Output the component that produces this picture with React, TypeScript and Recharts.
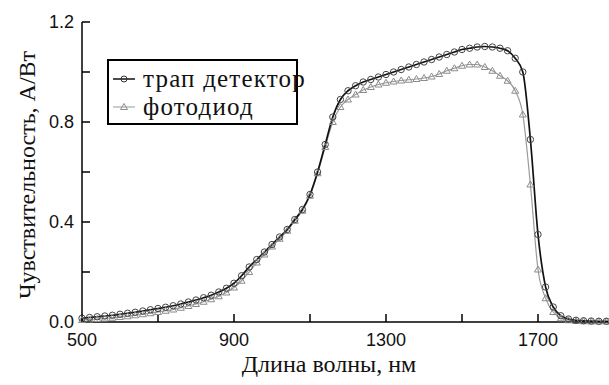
import { LineChart, Line, XAxis, YAxis, Legend, Label } from "recharts";

// длина волны, нм
const wavelengths = [
  500, 520, 540, 560, 580, 600, 620, 640, 660, 680, 700, 720, 740, 760, 780,
  800, 820, 840, 860, 880, 900, 920, 940, 960, 980, 1000, 1020, 1040, 1060,
  1080, 1100, 1120, 1140, 1160, 1180, 1200, 1220, 1240, 1260, 1280, 1300,
  1320, 1340, 1360, 1380, 1400, 1420, 1440, 1460, 1480, 1500, 1520, 1540,
  1560, 1580, 1600, 1620, 1640, 1660, 1680, 1700, 1720, 1740, 1760, 1780,
  1800, 1820, 1840, 1860, 1880, 1900,
];

// трап детектор, А/Вт
const trapDetector = [
  0.015, 0.018, 0.021, 0.024, 0.027, 0.031, 0.035, 0.039, 0.044, 0.049, 0.054,
  0.059, 0.065, 0.072, 0.08, 0.088, 0.097, 0.107, 0.12, 0.135, 0.155, 0.185,
  0.22, 0.25, 0.28, 0.31, 0.34, 0.37, 0.41, 0.45, 0.51, 0.6, 0.71, 0.82, 0.89,
  0.925, 0.945, 0.96, 0.97, 0.98, 0.99, 1.0, 1.01, 1.02, 1.03, 1.04, 1.05,
  1.06, 1.07, 1.08, 1.09, 1.095, 1.1, 1.102, 1.1, 1.095, 1.085, 1.055, 1.0,
  0.73, 0.35, 0.14, 0.06, 0.025, 0.012, 0.007, 0.005, 0.004, 0.003, 0.003,
  0.002,
];

// фотодиод, А/Вт
const photodiode = [
  0.008, 0.01, 0.012, 0.014, 0.017, 0.02, 0.023, 0.027, 0.031, 0.035, 0.04,
  0.045, 0.05, 0.057, 0.064, 0.072, 0.081, 0.091, 0.103, 0.118, 0.138, 0.165,
  0.2, 0.238, 0.27, 0.302, 0.333, 0.365, 0.405, 0.445, 0.505, 0.595, 0.7, 0.8,
  0.86, 0.89, 0.91, 0.928, 0.94, 0.95, 0.957, 0.962, 0.966, 0.969, 0.972,
  0.976, 0.982, 0.992, 1.005, 1.015, 1.025, 1.03, 1.03, 1.02, 1.005, 0.985,
  0.965, 0.925, 0.83, 0.55, 0.21, 0.095, 0.04, 0.015, 0.007, 0.004, 0.003,
  0.002, 0.002, 0.002, 0.002,
];

const xTicks = [500, 700, 900, 1100, 1300, 1500, 1700, 1900];
const xLabeled = [500, 900, 1300, 1700];
const yTicks = [0, 0.2, 0.4, 0.6, 0.8, 1.0, 1.2];
const yLabeled = [0, 0.4, 0.8, 1.2];

const rows = wavelengths.map((wl, i) => ({
  wl,
  trap: trapDetector[i],
  diode: photodiode[i],
}));

const sans = '"Liberation Sans", Arial, sans-serif';
const serif = '"Liberation Serif", "Times New Roman", serif';
const tickStyle = { fontFamily: sans, fontSize: 18, fill: "#111" };
const axisStroke = { stroke: "#000", strokeWidth: 1.5 };

const TriangleDot = (props: any) => {
  const { cx, cy, index } = props;
  if (cx == null || cy == null) return <g key={`tri-${index}`} />;
  return (
    <path
      key={`tri-${index}`}
      d={`M${cx},${cy - 3.5}L${cx + 3.5},${cy + 2.5}L${cx - 3.5},${cy + 2.5}Z`}
      fill="none"
      stroke="#8c8c8c"
      strokeWidth={1}
    />
  );
};

const LegendBox = () => (
  <div
    style={{
      width: 191,
      height: 66,
      border: "2px solid #000",
      background: "#fff",
      fontFamily: serif,
      fontSize: 25,
      letterSpacing: 1.2,
      color: "#111",
      lineHeight: "28px",
      paddingTop: 4,
      boxSizing: "border-box",
      textAlign: "left",
      whiteSpace: "nowrap",
    }}
  >
    <div style={{ display: "flex", alignItems: "center", height: 28 }}>
      <svg width={34} height={14} style={{ flex: "none" }}>
        <line x1={4} x2={26} y1={7} y2={7} stroke="#111" strokeWidth={1.5} />
        <circle cx={15} cy={7} r={3} fill="none" stroke="#333" />
      </svg>
      <span>трап детектор</span>
    </div>
    <div style={{ display: "flex", alignItems: "center", height: 28 }}>
      <svg width={34} height={14} style={{ flex: "none" }}>
        <line x1={4} x2={26} y1={7} y2={7} stroke="#999" strokeWidth={1} />
        <path d="M15,3.5L18.5,9.5L11.5,9.5Z" fill="none" stroke="#8c8c8c" />
      </svg>
      <span>фотодиод</span>
    </div>
  </div>
);

export default function App() {
  return (
    <div
      style={{
        position: "absolute",
        left: 0,
        top: 0,
        width: 609,
        height: 385,
        overflow: "hidden",
        background: "#fff",
      }}
    >
      <LineChart
        width={620}
        height={385}
        data={rows}
        margin={{ top: 22, right: 6, bottom: 0, left: 0 }}
      >
        <XAxis
          dataKey="wl"
          type="number"
          domain={[500, 1900]}
          ticks={xTicks}
          tickFormatter={(v: number) => (xLabeled.includes(v) ? String(v) : "")}
          tick={tickStyle}
          tickSize={-8}
          tickMargin={19}
          axisLine={axisStroke}
          tickLine={axisStroke}
          height={63}
          interval={0}
        >
          <Label
            content={() => (
              <text
                x={329}
                y={372}
                textAnchor="middle"
                fontFamily={serif}
                fontSize={24}
                fill="#111"
              >
                Длина волны, нм
              </text>
            )}
          />
        </XAxis>
        <XAxis
          xAxisId="top"
          dataKey="wl"
          type="number"
          orientation="top"
          domain={[500, 1900]}
          ticks={xTicks}
          tickFormatter={() => ""}
          tickSize={-8}
          axisLine={axisStroke}
          tickLine={axisStroke}
          height={0}
          interval={0}
        />
        <YAxis
          type="number"
          domain={[0, 1.2]}
          ticks={yTicks}
          tickFormatter={(v: number) =>
            yLabeled.some((t) => Math.abs(t - v) < 1e-6) ? v.toFixed(1) : ""
          }
          tick={tickStyle}
          tickSize={-8}
          tickMargin={16}
          axisLine={axisStroke}
          tickLine={axisStroke}
          width={82}
          interval={0}
        >
          <Label
            content={() => (
              <text
                x={27}
                y={175}
                transform="rotate(-90 27 175)"
                textAnchor="middle"
                dominantBaseline="central"
                fontFamily={serif}
                fontSize={24}
                fill="#111"
              >
                Чувствительность, А/Вт
              </text>
            )}
          />
        </YAxis>
        <YAxis
          yAxisId="right"
          type="number"
          orientation="right"
          domain={[0, 1.2]}
          ticks={yTicks}
          tickFormatter={() => ""}
          tickSize={-8}
          axisLine={axisStroke}
          tickLine={axisStroke}
          width={0}
          interval={0}
        />
        <Legend
          layout="vertical"
          align="center"
          verticalAlign="middle"
          content={LegendBox}
          wrapperStyle={{ left: 107, top: 59, width: 191, height: 66 }}
        />
        <Line
          dataKey="diode"
          name="фотодиод"
          type="monotone"
          stroke="#9a9a9a"
          strokeWidth={1.2}
          dot={TriangleDot}
          isAnimationActive={false}
        />
        <Line
          dataKey="trap"
          name="трап детектор"
          type="monotone"
          stroke="#111"
          strokeWidth={1.7}
          dot={{ r: 3.2, stroke: "#444", strokeWidth: 1, fill: "none" }}
          isAnimationActive={false}
        />
      </LineChart>
    </div>
  );
}
